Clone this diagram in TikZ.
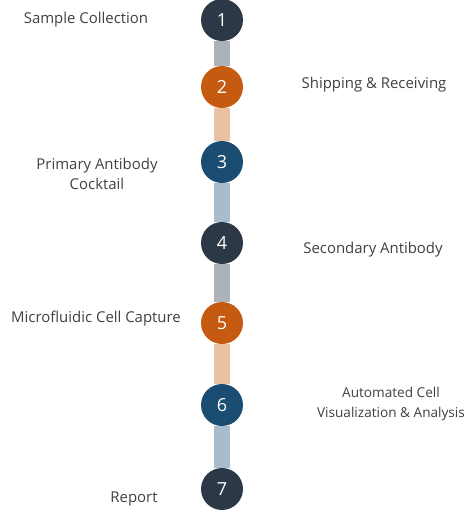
\documentclass[tikz,border=0pt]{standalone}
\usepackage{fontspec}
\setmainfont{Open Sans}
\usetikzlibrary{backgrounds}

\definecolor{slate}{HTML}{2D3846}
\definecolor{rust}{HTML}{C55A11}
\definecolor{navy}{HTML}{1B4D72}
\definecolor{slatebar}{HTML}{ADB2B8}
\definecolor{rustbar}{HTML}{EAC1A2}
\definecolor{navybar}{HTML}{A8BCCB}
\definecolor{ink}{HTML}{404040}

\tikzset{
  stepdot/.style={circle, fill=#1, minimum size=31.5pt, inner sep=0pt,
    text=white, font=\fontsize{13.5}{16}\selectfont},
  bar/.style={line width=12pt, #1},
  tag/.style={text=ink, align=center, font=\fontsize{11.2}{15}\selectfont}
}

\begin{document}
\begin{tikzpicture}[x=0.75pt, y=-0.75pt]
		\useasboundingbox (0,0) rectangle (467,512);

		% Steps along the line
		\node[stepdot=slate] (s1) at (222, 20) {1};
		\node[stepdot=rust]  (s2) at (222, 87) {2};
		\node[stepdot=navy]  (s3) at (222,162) {3};
		\node[stepdot=slate] (s4) at (222,243) {4};
		\node[stepdot=rust]  (s5) at (222,323) {5};
		\node[stepdot=navy]  (s6) at (222,405) {6};
		\node[stepdot=slate] (s7) at (222,489) {7};

		% Bars between steps
		\begin{scope}[on background layer]
			\draw[bar=slatebar] (s1) -- (s2);
			\draw[bar=rustbar]  (s2) -- (s3);
			\draw[bar=navybar]  (s3) -- (s4);
			\draw[bar=slatebar] (s4) -- (s5);
			\draw[bar=rustbar]  (s5) -- (s6);
			\draw[bar=navybar]  (s6) -- (s7);
		\end{scope}

		% Step names, left and right
		\node[tag] (t1) at ( 86, 20) {Sample Collection};
		\node[tag] (t2) at (374, 85) {Shipping \& Receiving};
		\node[tag] (t3) at ( 97,174) {Primary Antibody\\Cocktail};
		\node[tag] (t4) at (373,250) {Secondary Antibody};
		\node[tag] (t5) at ( 96,319) {Microfluidic Cell Capture};
		\node[tag, font=\fontsize{10.2}{15}\selectfont] (t6) at (391,404) {Automated Cell\\Visualization \& Analysis};
		\node[tag] (t7) at (134,499) {Report};
	\end{tikzpicture}
\end{document}
